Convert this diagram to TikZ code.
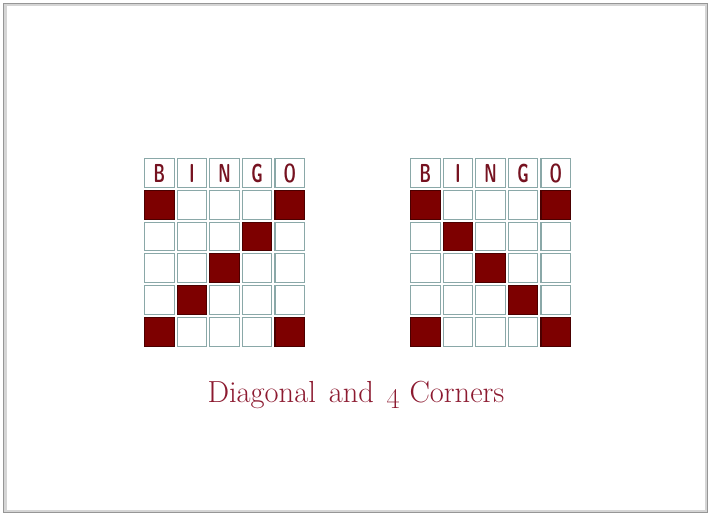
\documentclass[tikz,border=0pt]{standalone}
\usepackage{tikz}
\usetikzlibrary{positioning}
\definecolor{cellgray}{RGB}{138,168,168}
\definecolor{bingored}{RGB}{125,0,0}
\definecolor{lettered}{RGB}{118,18,32}
\definecolor{captionred}{RGB}{140,26,48}
\definecolor{framegray}{RGB}{150,150,150}

\begin{document}
\begin{tikzpicture}[
  x=1pt, y=-1pt,
  cell/.style={draw=cellgray, line width=1.1pt, fill=white,
    minimum width=29.5pt, minimum height=28.8pt, inner sep=0pt},
  hit/.style={cell, fill=bingored, draw=bingored!60!black},
  letter/.style={cell, text=lettered,
    font=\fontsize{26}{26}\selectfont\sffamily\bfseries},
  caption/.style={text=captionred, font=\fontsize{30.5}{32}\selectfont}
]
\useasboundingbox (0,0) rectangle (710,516);

% 外框
\draw[framegray!40, line width=3pt] (5,5) rectangle (706,511);
\draw[framegray, line width=1.2pt] (3.5,3.5) rectangle (707.5,512.5);

% 两张卡片
\foreach \card/\xo/\hits in {L/143/{1-1,1-5,2-4,3-3,4-2,5-1,5-5},
                             R/409/{1-1,1-5,2-2,3-3,4-4,5-1,5-5}} {
  % 表头
  \foreach \ch [count=\c] in {B,I,N,G,O}
    \node[letter] (\card-0-\c) at ({\xo+32.6*(\c-0.5)},173)
      {\scalebox{0.6}[1]{\ch}};
  % 空格
  \foreach \r in {1,...,5}
    \foreach \c in {1,...,5}
      \node[cell] (\card-\r-\c) at ({\xo+32.6*(\c-0.5)},{157+31.8*(\r+0.5)}) {};
  % 已标记
  \foreach \h in \hits
    \node[hit] at (\card-\h) {};
}

% 标题
\node[caption] (title) at (356,395)
  {Diagonal\hspace{0.12em} and\hspace{0.12em} \oldstylenums{4} Corners};
\end{tikzpicture}
\end{document}
